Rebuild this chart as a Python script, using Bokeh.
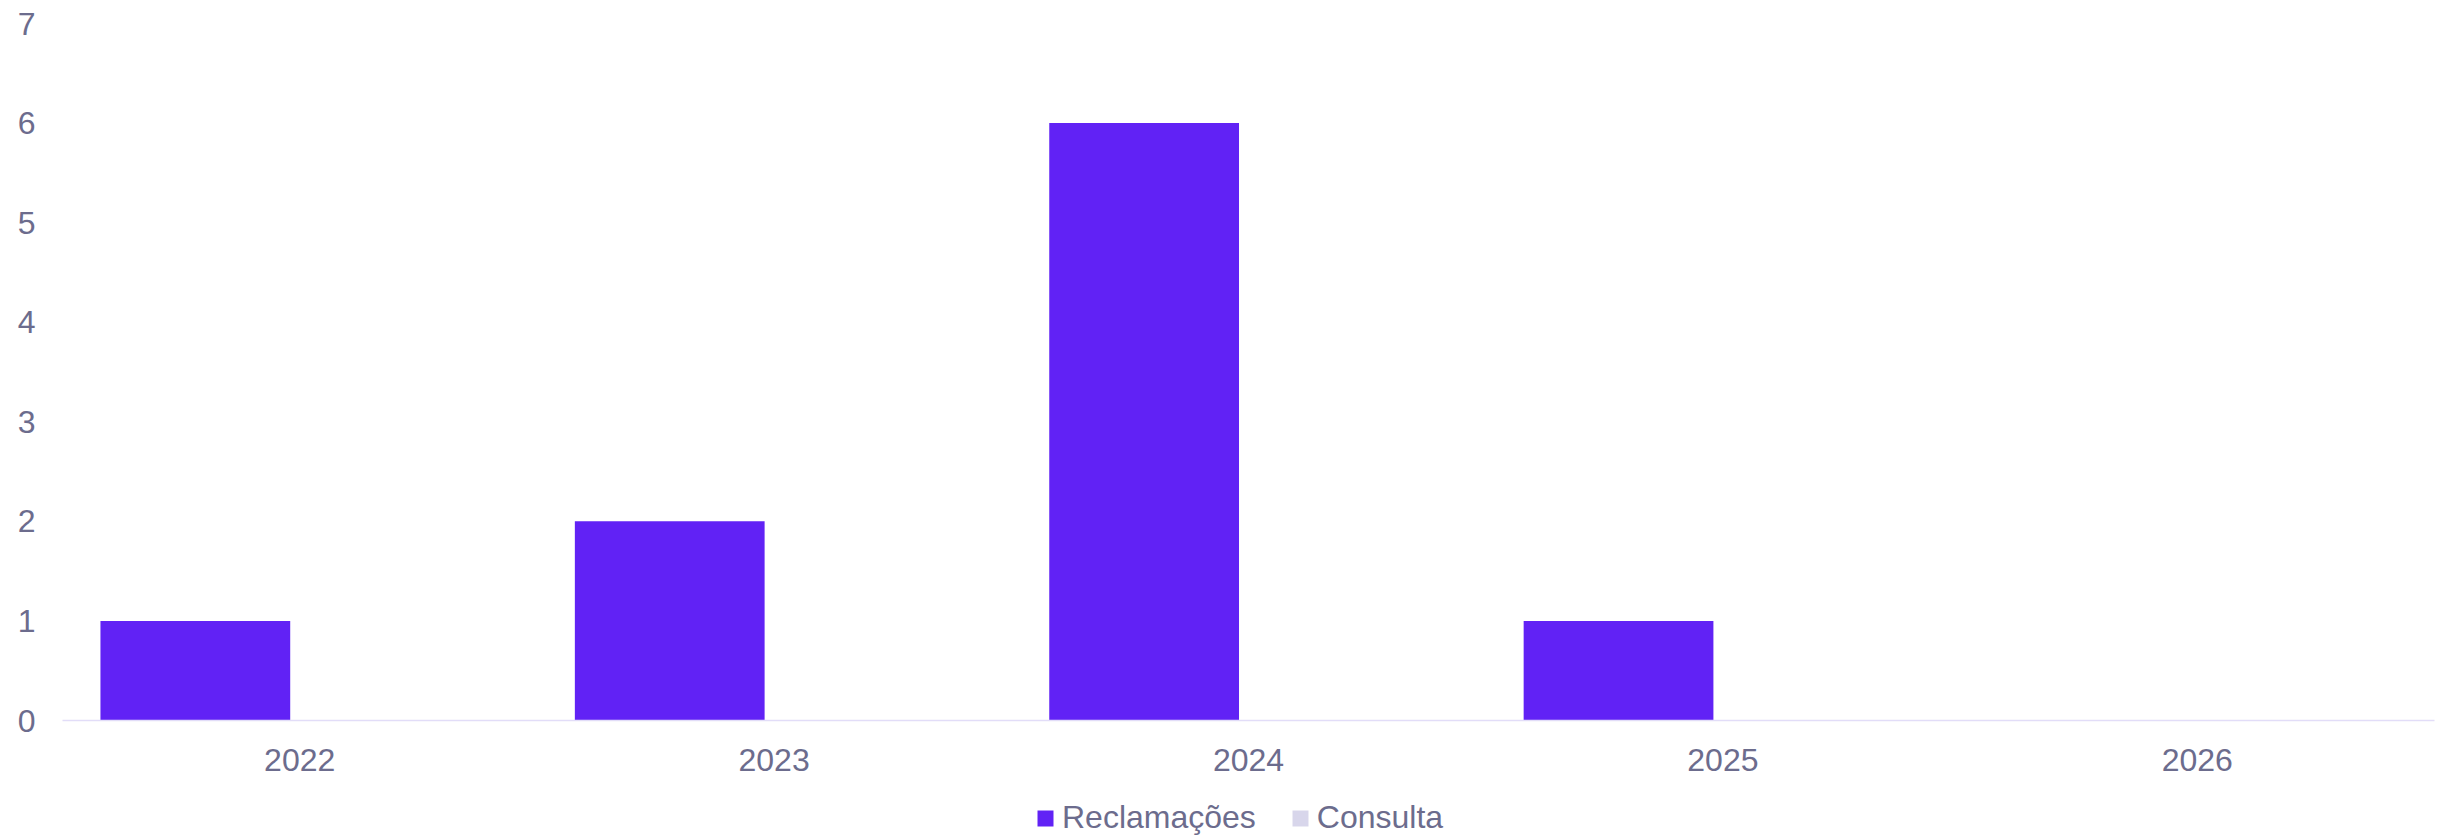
from bokeh.plotting import figure
from bokeh.models import Range1d, FactorRange, Legend, LegendItem, ColumnDataSource, FixedTicker
from bokeh.transform import dodge
from bokeh.layouts import column
from bokeh.embed import file_html
from bokeh.resources import INLINE

years = ["2022", "2023", "2024", "2025", "2026"]
reclamacoes = [1, 2, 6, 1, 0]
consulta = [0, 0, 0, 0, 0]
y_ticks = [0, 1, 2, 3, 4, 5, 6, 7]

TEXT = "#6C6C8D"
FONT = "Liberation Sans"
C_REC = "#6122F5"
C_CON = "#D8D6EB"

src = ColumnDataSource(dict(year=years, rec=reclamacoes, con=consulta))

p = figure(
    x_range=FactorRange(*years), y_range=Range1d(0, 7),
    width=2455, height=785, output_backend="svg", toolbar_location=None,
    min_border_left=62, min_border_right=21, min_border_top=23, min_border_bottom=65,
)
p.outline_line_color = None
p.xgrid.visible = False
p.ygrid.visible = False

p.vbar(x=dodge("year", -0.22, range=p.x_range), top="rec", width=0.4, source=src,
       fill_color=C_REC, line_color=None)
p.vbar(x=dodge("year", 0.22, range=p.x_range), top="con", width=0.4, source=src,
       fill_color=C_CON, line_color=None)

p.yaxis.ticker = FixedTicker(ticks=y_ticks)
p.yaxis.axis_line_color = None
p.yaxis.major_tick_line_color = None
p.yaxis.minor_tick_line_color = None
p.yaxis.major_label_standoff = 21
p.yaxis.major_label_text_font_size = "32px"
p.yaxis.major_label_text_font = FONT
p.yaxis.major_label_text_color = TEXT

p.xaxis.axis_line_color = "#E2DDF8"
p.xaxis.axis_line_width = 1.5
p.xaxis.major_tick_line_color = None
p.xaxis.minor_tick_line_color = None
p.xaxis.major_label_standoff = 22
p.xaxis.major_label_text_font_size = "32px"
p.xaxis.major_label_text_font = FONT
p.xaxis.major_label_text_color = TEXT

# legend strip: same bars, but the view range is above them so only the legend shows
q = figure(
    x_range=p.x_range, y_range=Range1d(100, 101),
    width=2455, height=52, output_backend="svg", toolbar_location=None,
    x_axis_type=None, y_axis_type=None,
    min_border_left=0, min_border_right=0, min_border_top=0, min_border_bottom=0,
)
q.outline_line_color = None
q.xgrid.visible = False
q.ygrid.visible = False
l1 = q.vbar(x=dodge("year", -0.22, range=q.x_range), top="rec", width=0.4, source=src,
            fill_color=C_REC, line_color=None)
l2 = q.vbar(x=dodge("year", 0.22, range=q.x_range), top="con", width=0.4, source=src,
            fill_color=C_CON, line_color=None)

legend = Legend(
    items=[LegendItem(label="Reclamações", renderers=[l1]),
           LegendItem(label="Consulta", renderers=[l2])],
    orientation="horizontal", location=(973, 1),
    glyph_width=20, glyph_height=20, label_standoff=7, spacing=34,
    padding=0, margin=0, border_line_color=None, background_fill_alpha=0,
    label_text_font_size="32px", label_text_font=FONT, label_text_color=TEXT,
)
q.add_layout(legend, "center")

layout = column(p, q, spacing=0)
open("out.html", "w").write(file_html(layout, INLINE))
